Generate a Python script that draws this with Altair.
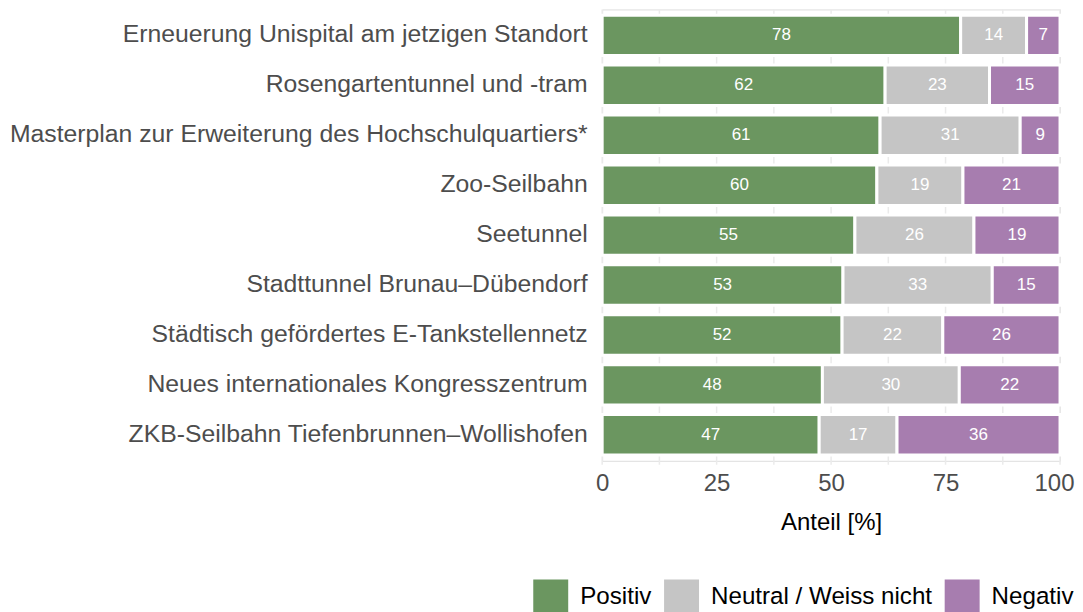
import altair as alt
import pandas as pd

categories = [
    "Erneuerung Unispital am jetzigen Standort",
    "Rosengartentunnel und -tram",
    "Masterplan zur Erweiterung des Hochschulquartiers*",
    "Zoo-Seilbahn",
    "Seetunnel",
    "Stadttunnel Brunau\u2013Dübendorf",
    "Städtisch gefördertes E-Tankstellennetz",
    "Neues internationales Kongresszentrum",
    "ZKB-Seilbahn Tiefenbrunnen\u2013Wollishofen",
]
responses = ["Positiv", "Neutral / Weiss nicht", "Negativ"]
colors = ["#6b9660", "#c5c5c5", "#a77daf"]

positiv = [78.3, 61.8, 60.7, 60.0, 55.2, 52.6, 52.4, 48.1, 47.4]
neutral = [14.4, 22.8, 30.6, 18.8, 26.0, 32.6, 22.0, 29.9, 17.0]
negativ = [7.3, 15.4, 8.7, 21.2, 18.8, 14.8, 25.6, 22.0, 35.6]

x_ticks = [0, 25, 50, 75, 100]
grid_vals = [0, 12.5, 25, 37.5, 50, 62.5, 75, 87.5, 100]

rows = []
for i, cat in enumerate(categories):
    start = 0.0
    for r, vals in zip(responses, [positiv, neutral, negativ]):
        v = vals[i]
        rows.append({"category": cat, "response": r, "value": v,
                     "start": start, "end": start + v, "mid": start + v / 2})
        start += v
df = pd.DataFrame(rows)
grid_df = pd.DataFrame({"g": grid_vals})

FONT = "Liberation Sans"

x_scale = alt.Scale(domain=[0, 100], nice=False, zero=True)
x_axis = alt.Axis(
    values=x_ticks, title="Anteil [%]", grid=False, domain=False, ticks=False,
    tickSize=0, labelFontSize=24, labelColor="#4d4d4d", labelPadding=10.5,
    labelFlush=False,
    labelOffset={"condition": {"test": "datum.value == 100", "value": -6}, "value": 0},
    labelFont=FONT, titleFont=FONT, titleFontSize=24,
    titleFontWeight="normal", titleColor="black", titlePadding=15.5,
)
y_enc = alt.Y(
    "category:N", sort=categories,
    scale=alt.Scale(paddingInner=0.19, paddingOuter=0.115),
    axis=alt.Axis(
        title=None, domain=False, ticks=False, tickSize=0, grid=False,
        labelFontSize=24.8, labelColor="#4d4d4d", labelPadding=15,
        labelLimit=800, labelFont=FONT, minExtent=595,
    ),
)

grid = alt.Chart(grid_df).mark_rule(color="#ebebeb", strokeWidth=1.5).encode(
    x=alt.X("g:Q", scale=x_scale, axis=x_axis),
    y=alt.value(0),
    y2=alt.value(456),
)

bars = alt.Chart(df).mark_bar(stroke="white", strokeWidth=3).encode(
    y=y_enc,
    x=alt.X("start:Q", scale=x_scale, axis=x_axis),
    x2="end:Q",
    color=alt.Color(
        "response:N",
        scale=alt.Scale(domain=responses, range=colors),
        legend=alt.Legend(
            orient="none", legendX=-69, legendY=571, direction="horizontal",
            title=None, symbolType="square", symbolSize=1225,
            symbolStrokeWidth=0, symbolOpacity=1, labelFontSize=24.2,
            labelColor="black", labelFont=FONT, labelOffset=12,
            labelLimit=600, columnPadding=12, padding=0,
        ),
    ),
)

labels = alt.Chart(df).mark_text(
    color="white", fontSize=17, font=FONT, align="center", baseline="middle"
).encode(
    y=y_enc,
    x=alt.X("mid:Q", scale=x_scale, axis=x_axis),
    text=alt.Text("value:Q", format=".0f"),
)

chart = (
    alt.layer(grid, bars, labels)
    .properties(width=458.5, height=452, padding=0, background="white")
    .configure_view(stroke=None)
    .configure(font=FONT)
)

chart.save("out.html", embed_options={"renderer": "svg", "actions": False})
